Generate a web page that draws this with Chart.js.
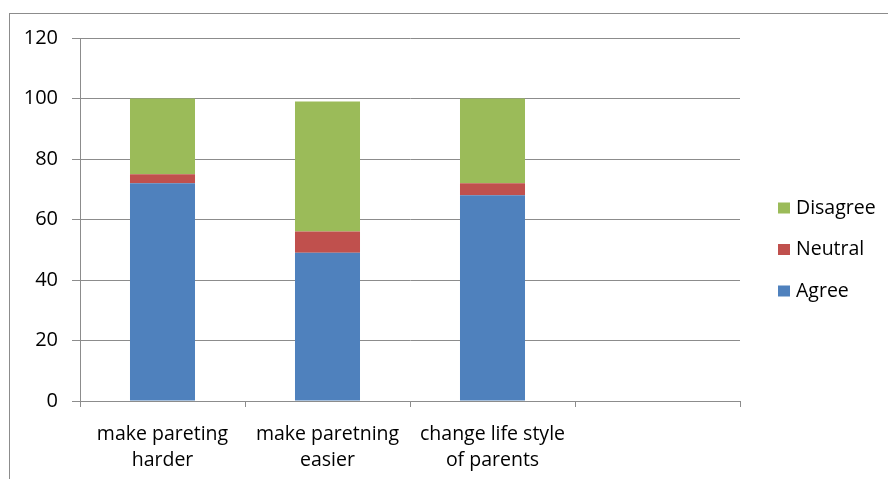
<!DOCTYPE html>
<html>
<head>
<meta charset="utf-8">
<script src="https://cdn.jsdelivr.net/npm/chart.js@4/dist/chart.umd.min.js"></script>
<style>
  html, body { margin: 0; padding: 0; background: #fff; }
  #wrap { width: 888px; height: 479px; position: relative; }
</style>
</head>
<body>
<div id="wrap"><canvas id="chart"></canvas></div>
<script>
const categories = [
  ['make pareting', 'harder'],
  ['make paretning', 'easier'],
  ['change life style', 'of parents'],
  ''
];
const agree = [72, 49, 68, null];
const neutral = [3, 7, 4, null];
const disagree = [25, 43, 28, null];
const yTicks = [0, 20, 40, 60, 80, 100, 120];

const FONT = '"Open Sans"';
const GRAY = '#8c8c8c';

// outer frame + legend on the right
const decor = {
  id: 'decor',
  beforeDraw(chart) {
    const ctx = chart.ctx;
    ctx.save();
    ctx.fillStyle = '#fff';
    ctx.fillRect(0, 0, chart.width, chart.height);
    ctx.strokeStyle = GRAY;
    ctx.lineWidth = 1;
    ctx.strokeRect(9.5, 13.5, 1000, 1000);
    ctx.restore();
  },
  afterDraw(chart) {
    const ctx = chart.ctx;
    const sets = chart.data.datasets.slice().reverse();
    ctx.save();
    ctx.font = '19.5px ' + FONT;
    ctx.textBaseline = 'middle';
    sets.forEach((ds, i) => {
      const y = 208 + i * 41.5;
      ctx.fillStyle = ds.backgroundColor;
      ctx.fillRect(778, y - 5.5, 12, 11);
      ctx.fillStyle = '#000';
      ctx.fillText(ds.label, 796, y);
    });
    ctx.restore();
  }
};

new Chart(document.getElementById('chart'), {
  type: 'bar',
  data: {
    labels: categories,
    datasets: [
      { label: 'Agree', data: agree, backgroundColor: '#4F81BD' },
      { label: 'Neutral', data: neutral, backgroundColor: '#C0504D' },
      { label: 'Disagree', data: disagree, backgroundColor: '#9BBB59' }
    ]
  },
  options: {
    responsive: true,
    maintainAspectRatio: false,
    animation: false,
    layout: { padding: { left: 0, top: 38, right: 148, bottom: 0 } },
    datasets: {
      bar: { categoryPercentage: 1, barPercentage: 0.394 }
    },
    plugins: {
      legend: { display: false },
      tooltip: { enabled: false }
    },
    scales: {
      x: {
        stacked: true,
        afterFit: s => { s.height = 78; },
        grid: {
          offset: true,
          drawOnChartArea: false,
          drawTicks: true,
          tickLength: 6,
          color: GRAY
        },
        border: { color: GRAY },
        ticks: {
          color: '#000',
          padding: 14,
          maxRotation: 0,
          autoSkip: false,
          font: { family: FONT, size: 19.5, lineHeight: 1.35 }
        }
      },
      y: {
        stacked: true,
        min: 0,
        max: 120,
        afterFit: s => { s.width = 80; },
        afterBuildTicks: s => { s.ticks = yTicks.map(v => ({ value: v })); },
        grid: { color: GRAY, tickLength: 8 },
        border: { color: GRAY },
        ticks: {
          color: '#000',
          padding: 14,
          font: { family: FONT, size: 20 }
        }
      }
    }
  },
  plugins: [decor]
});
</script>
</body>
</html>
